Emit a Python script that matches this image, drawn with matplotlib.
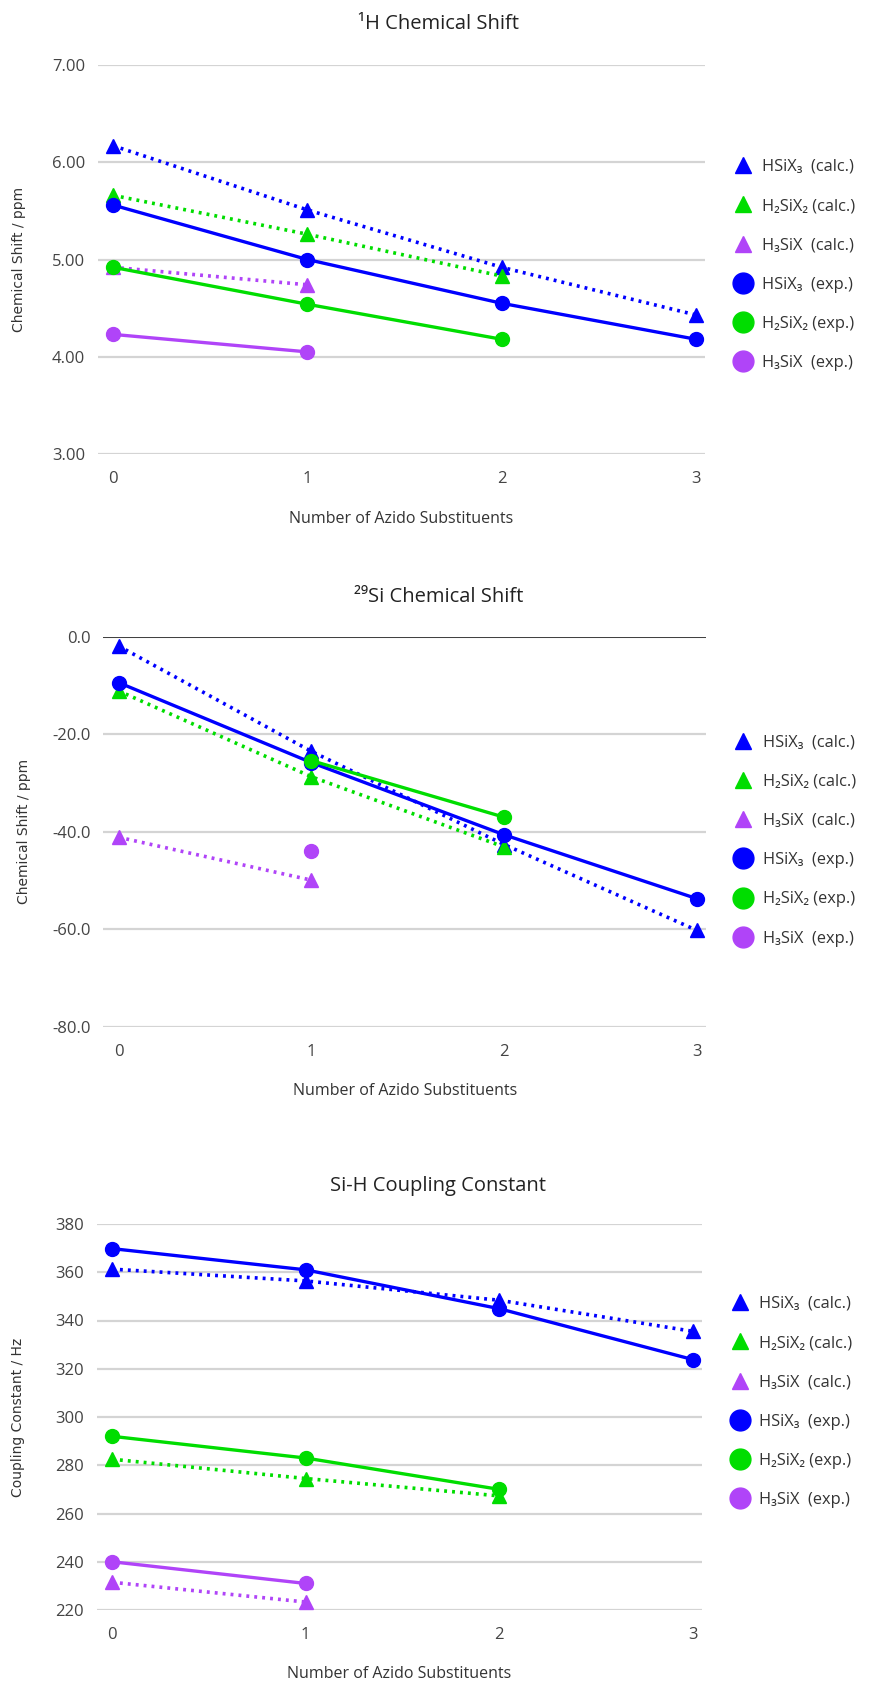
import numpy as np
import matplotlib
matplotlib.use("Agg")
import matplotlib.pyplot as plt

plt.rcParams['font.family'] = ['Open Sans', 'DejaVu Sans']

# data
n_azido = [0, 1, 2, 3]
labels = ['HSiX₃  (calc.)', 'H₂SiX₂ (calc.)', 'H₃SiX  (calc.)',
          'HSiX₃  (exp.)', 'H₂SiX₂ (exp.)', 'H₃SiX  (exp.)']
colors = ['#0000ff', '#00dd00', '#b044f8']

h_calc_hsix3 = [6.17, 5.51, 4.92, 4.43]
h_calc_h2six2 = [5.66, 5.26, 4.83]
h_calc_h3six = [4.92, 4.74]
h_exp_hsix3 = [5.56, 5.00, 4.55, 4.18]
h_exp_h2six2 = [4.92, 4.54, 4.18]
h_exp_h3six = [4.23, 4.05]

si_calc_hsix3 = [-1.9, -23.5, -42.6, -60.2]
si_calc_h2six2 = [-11.1, -28.7, -43.1]
si_calc_h3six = [-41.1, -49.9]
si_exp_hsix3 = [-9.4, -25.8, -40.6, -53.7]
si_exp_h2six2 = [np.nan, -25.4, -37.0]
si_exp_h3six = [np.nan, -43.9]

j_calc_hsix3 = [361.3, 356.4, 348.4, 335.5]
j_calc_h2six2 = [282.5, 274.5, 267.3]
j_calc_h3six = [231.5, 223.3]
j_exp_hsix3 = [369.8, 361.0, 344.9, 323.8]
j_exp_h2six2 = [292.0, 283.0, 270.0]
j_exp_h3six = [240.0, 231.0]

W, H = 877, 1684
fig = plt.figure(figsize=(W / 100, H / 100), dpi=100)


def px_axes(left, right, top, bottom):
    return fig.add_axes([left / W, 1 - bottom / H, (right - left) / W, (bottom - top) / H])


def draw(ax, calc, exp, ylim, yticks, fmt, title, ylabel, title_y, xlabel_y, leg_y, zero_line=False):
    for i, vals in enumerate(calc):
        ax.plot(n_azido[:len(vals)], vals, color=colors[i], ls=(0, (0.8, 1.4)), lw=2.6,
                marker='^', ms=10, label=labels[i], zorder=3)
    for i, vals in enumerate(exp):
        ax.plot(n_azido[:len(vals)], vals, color=colors[i], ls='-', lw=2.4,
                marker='o', ms=10, label=labels[i + 3], zorder=4)
    ax.set_xlim(-0.079, 3.047)
    ax.set_ylim(*ylim)
    ax.set_xticks(n_azido)
    ax.set_yticks(yticks)
    ax.set_yticklabels([fmt.format(v) for v in yticks])
    ax.grid(axis='y', color='#d4d4d4', lw=1.6)
    ax.set_axisbelow(True)
    for s in ax.spines.values():
        s.set_visible(False)
    if zero_line:
        ax.axhline(0, color='#333333', lw=1.3, zorder=2)
    ax.tick_params(length=0, labelsize=12, colors='#444444', pad=9)
    ax.tick_params(axis='x', pad=12)
    ax.set_ylabel(ylabel, family='DejaVu Sans', fontsize=10, color='#333333')
    ax.yaxis.set_label_coords(-72 / ax.bbox.width, 0.5)
    fig.text(0.5, 1 - title_y / H, title, ha='center', va='center', fontsize=14.5, color='#222222')
    bb = ax.get_position()
    fig.text((bb.x0 + bb.x1) / 2, 1 - xlabel_y / H, 'Number of Azido Substituents',
             ha='center', va='center', fontsize=11.5, color='#333333')
    h, l = ax.get_legend_handles_labels()
    leg = ax.legend(h, l, loc='center left', bbox_to_anchor=(1.035, leg_y), frameon=False,
                    fontsize=11.8, handlelength=1.0, handletextpad=0.7, labelspacing=1.42,
                    borderpad=0)
    for lh in leg.legend_handles:
        lh.set_linestyle('none')
    for lh in leg.legend_handles[:3]:
        lh.set_markersize(11)
    for lh in leg.legend_handles[3:]:
        lh.set_markersize(15)
    for t in leg.get_texts():
        t.set_color('#333333')


ax1 = px_axes(97.7, 705, 65, 454)
draw(ax1, [h_calc_hsix3, h_calc_h2six2, h_calc_h3six], [h_exp_hsix3, h_exp_h2six2, h_exp_h3six],
     (3, 7), [3, 4, 5, 6, 7], '{:.2f}', '¹H Chemical Shift', 'Chemical Shift / ppm', 24, 519, 0.486)

ax2 = px_axes(103.3, 706, 636.7, 1027)
draw(ax2, [si_calc_hsix3, si_calc_h2six2, si_calc_h3six], [si_exp_hsix3, si_exp_h2six2, si_exp_h3six],
     (-80, 0), [-80, -60, -40, -20, 0], '{:.1f}', '²⁹Si Chemical Shift', 'Chemical Shift / ppm', 597, 1091,
     0.478, zero_line=True)

ax3 = px_axes(96.7, 702, 1224, 1610)
draw(ax3, [j_calc_hsix3, j_calc_h2six2, j_calc_h3six], [j_exp_hsix3, j_exp_h2six2, j_exp_h3six],
     (220, 380), list(range(220, 381, 20)), '{:.0f}', 'Si-H Coupling Constant', 'Coupling Constant / Hz',
     1186, 1674, 0.539)

fig.savefig('out.png', dpi=100)
